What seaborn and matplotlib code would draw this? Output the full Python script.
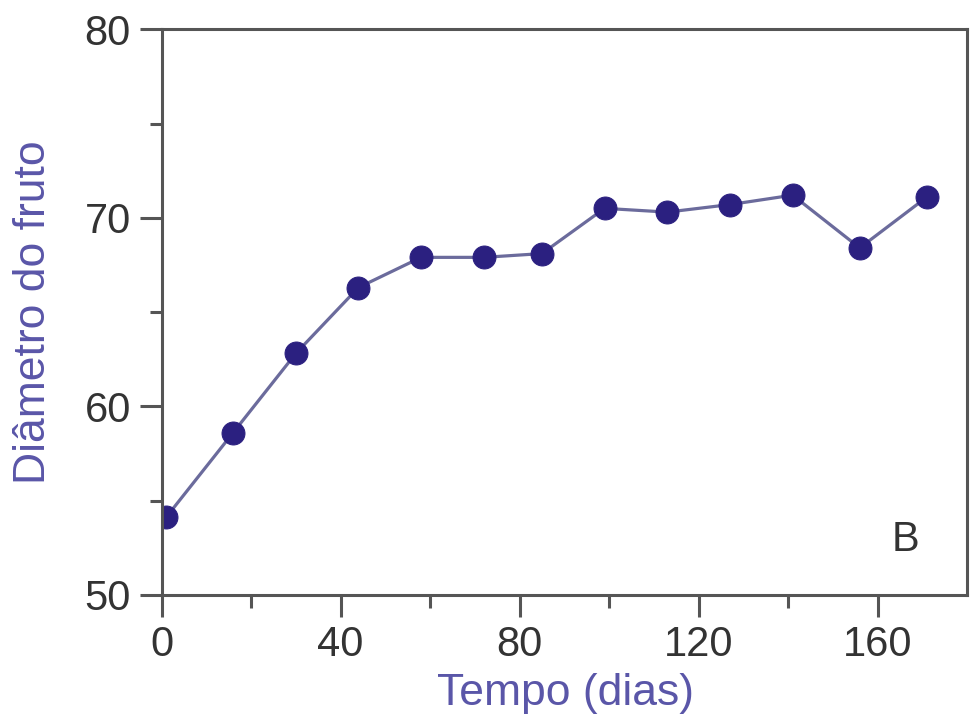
import matplotlib
matplotlib.use("Agg")
import matplotlib.pyplot as plt
import seaborn as sns
import pandas as pd
from matplotlib.ticker import FixedLocator

dias = [1, 16, 30, 44, 58, 72, 85, 99, 113, 127, 141, 156, 171]
diametro = [54.1, 58.6, 62.8, 66.3, 67.9, 67.9, 68.1, 70.5, 70.3, 70.7, 71.2, 68.4, 71.1]
x_ticks = [0, 40, 80, 120, 160]
x_minor = [20, 60, 100, 140]
y_ticks = [50, 60, 70, 80]
y_minor = [55, 65, 75]

df = pd.DataFrame({"Tempo (dias)": dias, "Diâmetro do fruto": diametro})

sns.set_style("white")
plt.rcParams["font.family"] = ["Liberation Sans", "DejaVu Sans"]

fig = plt.figure(figsize=(9.73, 7.14), dpi=100)
ax = fig.add_axes([0.166, 0.167, 0.828, 0.792])

sns.lineplot(data=df, x="Tempo (dias)", y="Diâmetro do fruto", ax=ax,
             color="#6b6b9c", linewidth=2.3, marker="o", markersize=16.5,
             markerfacecolor="#2b2080", markeredgecolor="#2b2080")

ax.set_xlim(0, 180)
ax.set_ylim(50, 80)
ax.set_xticks(x_ticks)
ax.set_yticks(y_ticks)
ax.xaxis.set_minor_locator(FixedLocator(x_minor))
ax.yaxis.set_minor_locator(FixedLocator(y_minor))

for s in ax.spines.values():
    s.set_visible(True)
    s.set_color("#555555")
    s.set_linewidth(2.2)

ax.tick_params(axis="both", which="major", direction="out", length=16, width=2.2,
               color="#555555", labelsize=30, labelcolor="#333333", pad=6)
ax.tick_params(axis="both", which="minor", direction="out", length=9, width=2.2,
               color="#555555")
ax.tick_params(axis="x", which="both", bottom=True, top=False)
ax.tick_params(axis="y", which="both", left=True, right=False)

ax.set_xlabel("Tempo (dias)", fontsize=32, color="#5a56a8", va="top")
ax.xaxis.set_label_coords(0.502, -0.138)
ax.set_ylabel("Diâmetro do fruto", fontsize=32, color="#5a56a8", va="bottom")
ax.yaxis.set_label_coords(-0.134, 0.5)

ax.text(0.924, 0.097, "B", transform=ax.transAxes, fontsize=30, color="#333333",
        ha="center", va="center")

fig.savefig("out.png", dpi=100)
